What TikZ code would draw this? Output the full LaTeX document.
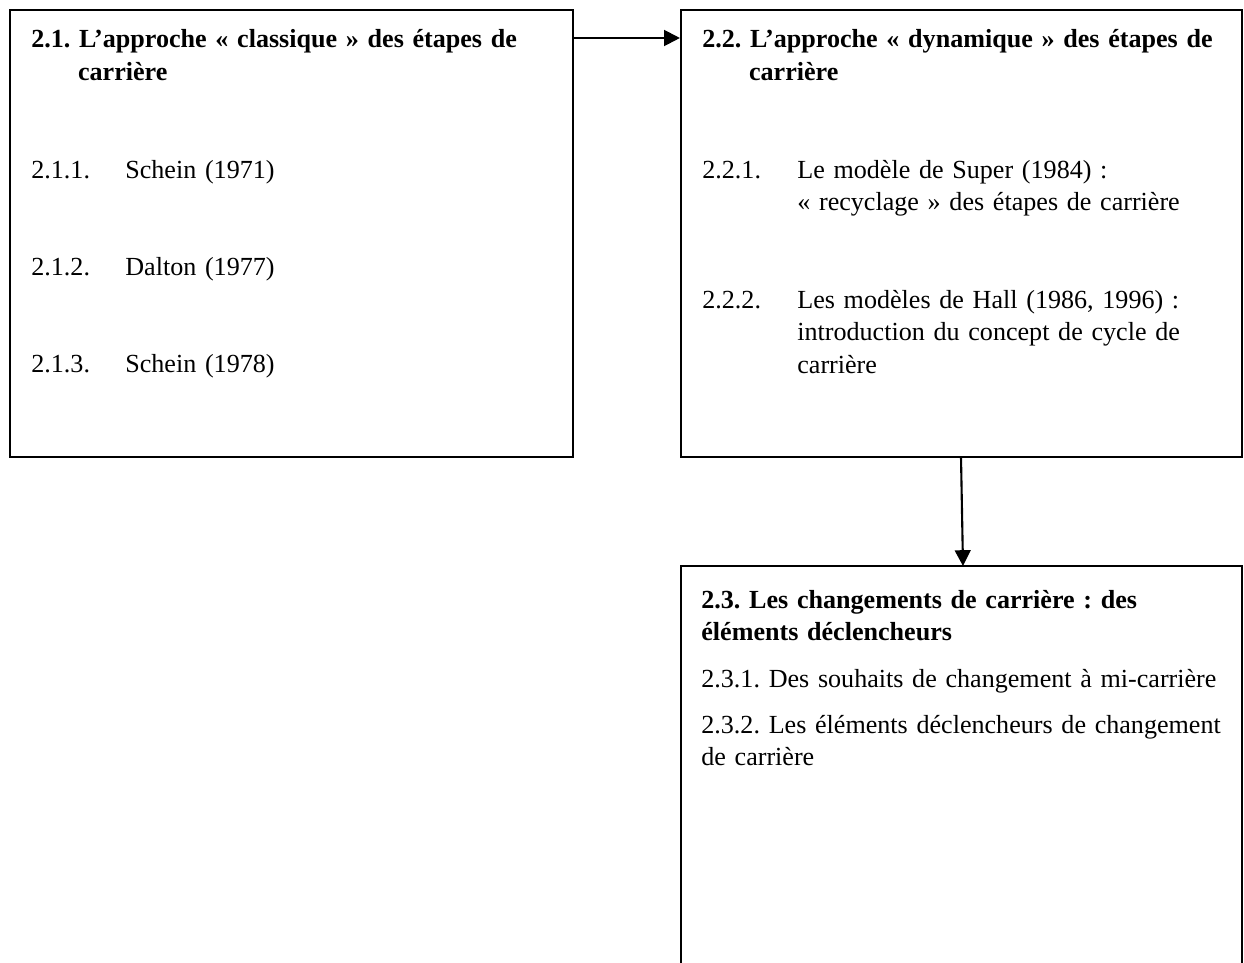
\documentclass[tikz,border=0pt]{standalone}
\usepackage{fontspec}
\setmainfont{Liberation Serif}
\frenchspacing
\usetikzlibrary{positioning, arrows.meta, fit}
\tikzstyle{block}=[draw, line width=1.2pt, rectangle, inner sep=0pt]
\tikzstyle{every node}=[font=\fontsize{14.85}{18.7}\selectfont]
\tikzstyle{txt}=[anchor=base west, inner sep=0pt, align=left, text width=12cm]
\tikzstyle{head}=[txt, font=\fontsize{14.85}{18.7}\selectfont\bfseries]

\begin{document}
\begin{tikzpicture}[>={Triangle[length=9pt,width=9pt]}, x=0.02cm, y=-0.02cm]
            \useasboundingbox (0,0) rectangle (1244,963);
            % boxes
            \node[block, fit={(10,10) (573,457)}] (b21) {};
            \node[block, fit={(681,10) (1242,457)}] (b22) {};
            \node[block, fit={(681,566) (1242,1010)}] (b23) {};
            % 2.1
            \node[head] (h21) at (31,48) {2.1. L’approche « classique » des étapes de\\\hspace*{26.6pt}carrière};
            \node[txt] (n211) at (31,178) {2.1.1.};
            \node[txt] (t211) at (125,178) {Schein (1971)};
            \node[txt] (n212) at (31,275) {2.1.2.};
            \node[txt] (t212) at (125,275) {Dalton (1977)};
            \node[txt] (n213) at (31,372) {2.1.3.};
            \node[txt] (t213) at (125,372) {Schein (1978)};
            % 2.2
            \node[head] (h22) at (702,48) {2.2. L’approche « dynamique » des étapes de\\\hspace*{26.6pt}carrière};
            \node[txt] (n221) at (702,178) {2.2.1.};
            \node[txt] (t221) at (797,178) {Le modèle de Super (1984) :\\« recyclage » des étapes de carrière};
            \node[txt] (n222) at (702,308) {2.2.2.};
            \node[txt] (t222) at (797,308) {Les modèles de Hall (1986, 1996) :\\introduction du concept de cycle de\\carrière};
            % 2.3
            \node[head] (h23) at (701,608) {2.3. Les changements de carrière : des\\éléments déclencheurs};
            \node[txt] (t231) at (701,687) {2.3.1. Des souhaits de changement à mi-carrière};
            \node[txt] (t232) at (701,733) {2.3.2. Les éléments déclencheurs de changement\\de carrière};
            % links
            \coordinate (a21) at (573,38);
            \coordinate (a22) at (961,457);
            \coordinate (a23) at (963,566);
            \draw[->, line width=1.2pt] (a21) -- (a21 -| b22.west);
            \draw[->, line width=1.2pt] (a22) -- (a23);
        \end{tikzpicture}
\end{document}
